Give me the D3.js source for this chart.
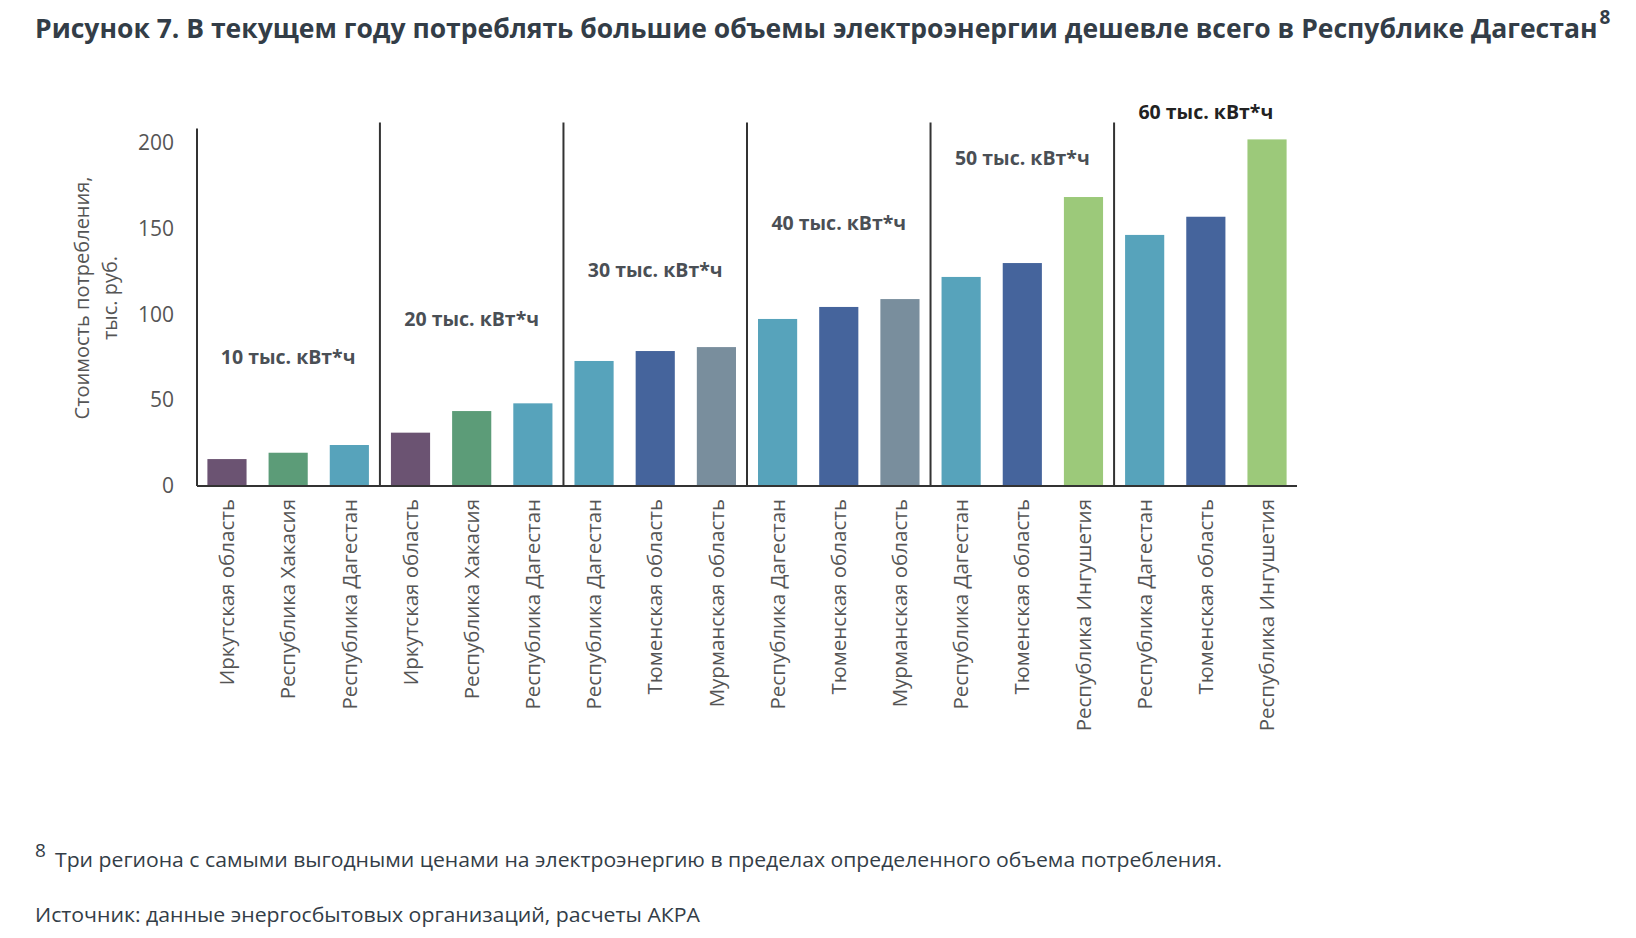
<!DOCTYPE html>
<html>
<head>
<meta charset="utf-8">
<script src="https://cdn.jsdelivr.net/npm/d3@7"></script>
<style>
  body { margin: 0; background: #fff; }
  text { font-family: "Open Sans", sans-serif; }
</style>
</head>
<body>
<div id="chart"></div>
<script>
// consumption volumes (one group of three regions each)
const groups = ["10 тыс. кВт*ч", "20 тыс. кВт*ч", "30 тыс. кВт*ч", "40 тыс. кВт*ч", "50 тыс. кВт*ч", "60 тыс. кВт*ч"]
const regions = [
    ["Иркутская область", "Республика Хакасия", "Республика Дагестан"],
    ["Иркутская область", "Республика Хакасия", "Республика Дагестан"],
    ["Республика Дагестан", "Тюменская область", "Мурманская область"],
    ["Республика Дагестан", "Тюменская область", "Мурманская область"],
    ["Республика Дагестан", "Тюменская область", "Республика Ингушетия"],
    ["Республика Дагестан", "Тюменская область", "Республика Ингушетия"]
]
// cost, thousand rubles
const costs = [
    [15.7, 19.4, 23.9],
    [31.1, 43.7, 48.2],
    [72.9, 78.7, 81.0],
    [97.4, 104.4, 109.0],
    [121.9, 130.0, 168.5],
    [146.4, 157.0, 202.1]
]
// where the group caption sits, in axis units
const captionLevel = [75, 97, 126, 153, 191, 218]
const yTicks = [0, 50, 100, 150, 200]

const regionColor = {
    "Иркутская область": "#6b5372",
    "Республика Хакасия": "#5c9c78",
    "Республика Дагестан": "#57a3bb",
    "Тюменская область": "#45649c",
    "Мурманская область": "#798e9d",
    "Республика Ингушетия": "#9cc97a"
}

const W = 1636, H = 938
const left = 197, right = 1297, base = 486, top200 = 143

const bars = []
groups.forEach((g, gi) => {
    regions[gi].forEach((r, ri) => {
        bars.push({ key: gi + "-" + ri, group: gi, region: r, value: costs[gi][ri] })
    })
})

const svg = d3.select("#chart").append("svg")
    .attr("width", W)
    .attr("height", H)

// title with footnote mark
const title = svg.append("text")
    .attr("x", 35).attr("y", 38)
    .attr("font-size", 26.5).attr("font-weight", 700)
    .attr("fill", "#333d47")
title.append("tspan")
    .text("Рисунок 7. В текущем году потреблять большие объемы электроэнергии дешевле всего в Республике Дагестан")
title.append("tspan")
    .attr("dx", 2).attr("dy", -14)
    .attr("font-size", 19)
    .text("8")

let x = d3.scaleBand()
    .domain(bars.map(d => d.key))
    .range([left, right])
    .paddingInner(0.36)
    .paddingOuter(0.17)

let y = d3.scaleLinear()
    .domain([0, 200])
    .range([base, top200])

// y axis labels only
const yAxis = svg.append("g")
    .attr("transform", "translate(" + left + ",0)")
    .call(d3.axisLeft(y).tickValues(yTicks).tickSize(0).tickPadding(23))
yAxis.select(".domain").remove()
yAxis.selectAll("text")
    .attr("font-size", 21)
    .attr("fill", "#555")
    .style("font-family", "'Open Sans', sans-serif")

// axis title
svg.append("text")
    .attr("transform", "translate(89,298) rotate(-90)")
    .attr("text-anchor", "middle")
    .attr("font-size", 20).attr("fill", "#555")
    .text("Стоимость потребления,")
svg.append("text")
    .attr("transform", "translate(117,298) rotate(-90)")
    .attr("text-anchor", "middle")
    .attr("font-size", 20).attr("fill", "#555")
    .text("тыс. руб.")

// bars
svg.selectAll(".bar")
    .data(bars)
    .enter()
    .append("rect")
    .attr("class", "bar")
    .attr("x", d => x(d.key))
    .attr("width", x.bandwidth())
    .attr("y", d => y(d.value))
    .attr("height", d => y(0) - y(d.value))
    .attr("fill", d => regionColor[d.region])

// vertical axis line and group separators
svg.append("line")
    .attr("x1", left).attr("x2", left)
    .attr("y1", y(208.5)).attr("y2", base)
    .attr("stroke", "#333").attr("stroke-width", 2)

const sepX = groups.slice(1).map((g, i) => {
    const a = x(i + "-2") + x.bandwidth()
    const b = x((i + 1) + "-0")
    return (a + b) / 2
})
svg.selectAll(".sep")
    .data(sepX)
    .enter()
    .append("line")
    .attr("class", "sep")
    .attr("x1", d => d).attr("x2", d => d)
    .attr("y1", y(212)).attr("y2", base)
    .attr("stroke", "#333").attr("stroke-width", 2)

// baseline
svg.append("line")
    .attr("x1", left).attr("x2", right)
    .attr("y1", base).attr("y2", base)
    .attr("stroke", "#333").attr("stroke-width", 2)

// group captions
svg.selectAll(".cap")
    .data(groups)
    .enter()
    .append("text")
    .attr("class", "cap")
    .attr("x", (d, i) => x(i + "-1") + x.bandwidth() / 2)
    .attr("y", (d, i) => y(captionLevel[i]))
    .attr("dy", "0.35em")
    .attr("text-anchor", "middle")
    .attr("font-size", 19.5).attr("font-weight", 700)
    .attr("fill", (d, i) => i === groups.length - 1 ? "#222" : "#4a4f55")
    .text(d => d)

// region labels
svg.selectAll(".reg")
    .data(bars)
    .enter()
    .append("text")
    .attr("class", "reg")
    .attr("transform", d => "translate(" + (x(d.key) + x.bandwidth() / 2) + ",499) rotate(-90)")
    .attr("dy", "0.35em")
    .attr("text-anchor", "end")
    .attr("font-size", 20.5).attr("fill", "#555")
    .text(d => d.region)

// footnote and source
svg.append("text")
    .attr("x", 35).attr("y", 857)
    .attr("font-size", 19).attr("fill", "#333d47")
    .text("8")
svg.append("text")
    .attr("x", 55).attr("y", 867)
    .attr("font-size", 20).attr("fill", "#333d47")
    .attr("textLength", 1167).attr("lengthAdjust", "spacingAndGlyphs")
    .text("Три региона с самыми выгодными ценами на электроэнергию в пределах определенного объема потребления.")
svg.append("text")
    .attr("x", 35).attr("y", 922)
    .attr("font-size", 20).attr("fill", "#333d47")
    .attr("textLength", 665).attr("lengthAdjust", "spacingAndGlyphs")
    .text("Источник: данные энергосбытовых организаций, расчеты АКРА")
</script>
</body>
</html>
